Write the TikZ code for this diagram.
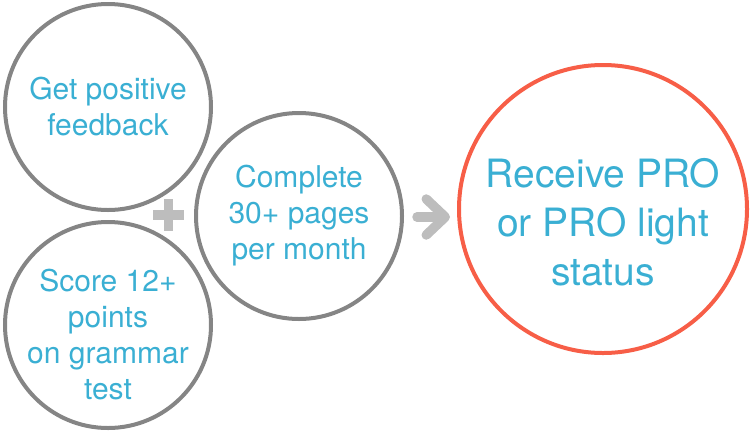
\documentclass[tikz,border=0pt]{standalone}
\usepackage{fontspec}
\setmainfont{TeX Gyre Heros}
\usetikzlibrary{arrows.meta}
\definecolor{ringgray}{HTML}{858585}
\definecolor{ringred}{HTML}{F75E47}
\definecolor{txtblue}{HTML}{3AAFD3}
\definecolor{signgray}{HTML}{BDBDBD}
\begin{document}
\begin{tikzpicture}[x=1pt,y=-1pt,
    ring/.style={draw=ringgray,line width=4pt,circle,minimum size=206pt,inner sep=0pt},
    goal/.style={draw=ringred,line width=4pt,circle,minimum size=288pt,inner sep=0pt},
    words/.style={text=txtblue,align=center,font=\fontsize{30}{36}\selectfont},
    sign/.style={draw=signgray,line width=9.5pt}]
    \useasboundingbox (0,0) rectangle (751,432);
    % the three steps
    \node[ring] (feedback) at (108,107) {};
    \node[ring] (grammar) at (108,325) {};
    \node[ring] (pages) at (299,216) {};
    \node[goal] (status) at (603,209) {};
    \node[words] (feedbacktxt) at (108,107) {Get positive\\feedback};
    \node[words] (grammartxt) at (108,335) {Score 12+\\points\\on grammar\\test};
    \node[words] (pagestxt) at (299,216) {Complete\\30+ pages\\per month};
    \node[words,font=\fontsize{39}{49}\selectfont] (statustxt) at (603,222) {Receive PRO\\or PRO light\\status};
    % plus and arrow
    \draw[sign] (153,215) -- (184,215);
    \draw[sign] (168.5,199) -- (168.5,231);
    \draw[sign,line cap=round,-{Straight Barb[round,length=19pt,width=36pt]},
        shorten <=13pt,shorten >=7pt] ([yshift=-1pt]pages.east) -- ([yshift=-1pt]pages.east -| status.west);
\end{tikzpicture}
\end{document}
